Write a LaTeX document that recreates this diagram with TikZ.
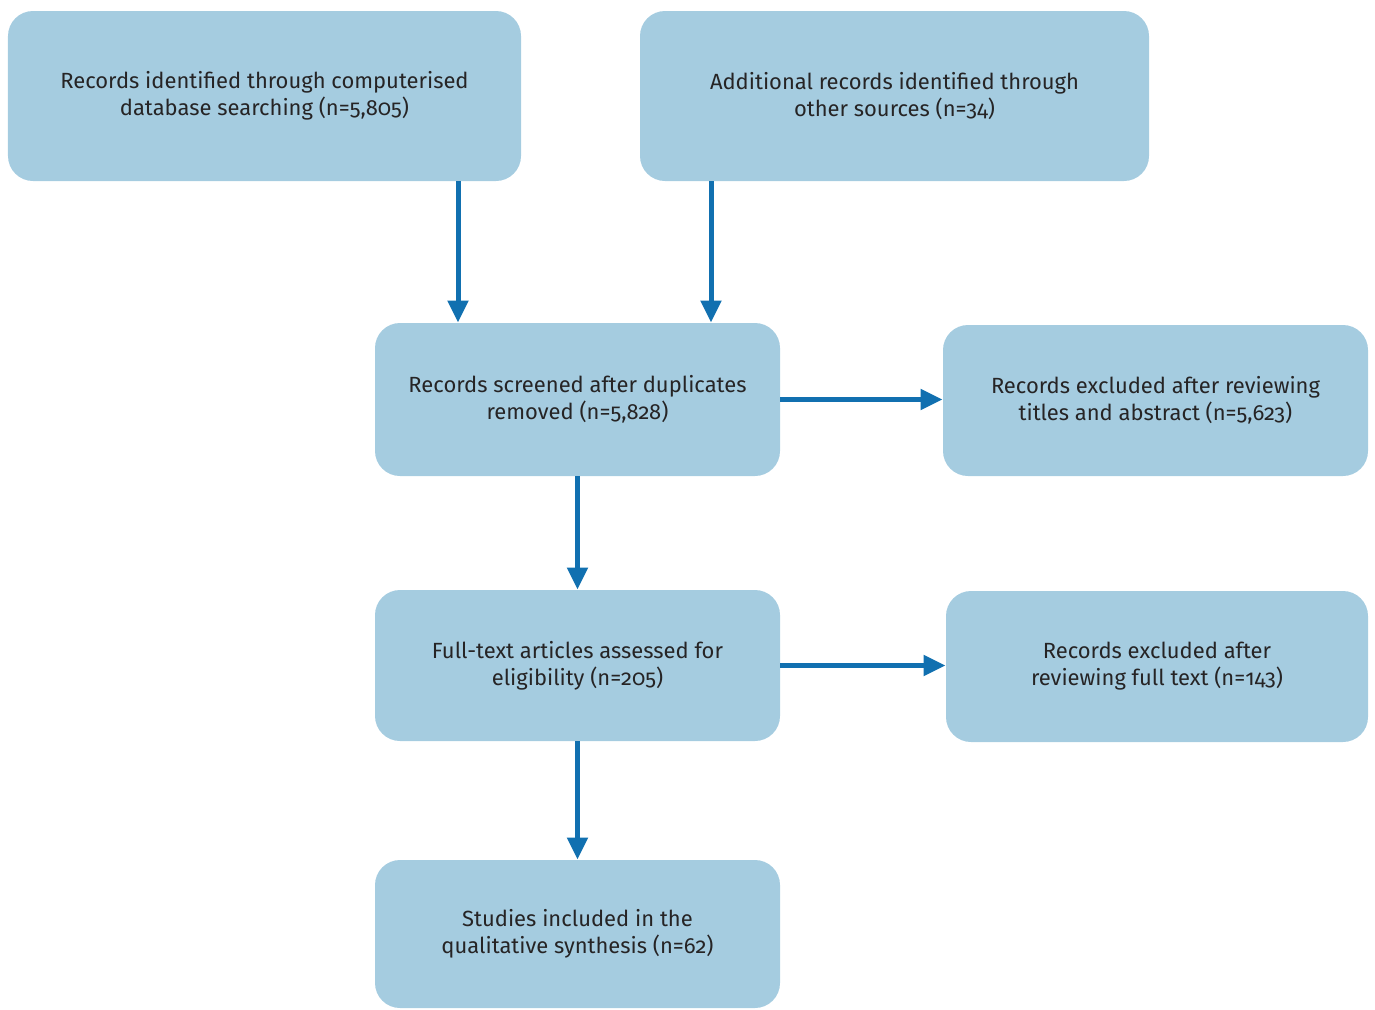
\documentclass[tikz,border=0pt]{standalone}
\usepackage{fontspec}
\setmainfont{Fira Sans}[Numbers=OldStyle]
\usetikzlibrary{arrows.meta, shapes}
\definecolor{boxblue}{RGB}{165,204,224}
\definecolor{arrowblue}{RGB}{17,112,176}
\definecolor{textgrey}{RGB}{38,36,37}

\begin{document}
\begin{tikzpicture}[
  stage/.style={rectangle, rounded corners=0.5cm, fill=boxblue, text=textgrey,
                align=center, font=\fontsize{12.5}{15.4}\selectfont},
  flow/.style={draw=arrowblue, line width=0.1cm, -{Triangle[width=0.4cm,length=0.44cm]}}
]
\useasboundingbox (0,0) rectangle (27.5,-20.2);

\node[stage, minimum width=10.26cm, minimum height=3.4cm] (ident) at (5.29,-1.92)
  {Records identified through computerised\\database searching (n=5,805)};
\node[stage, minimum width=10.18cm, minimum height=3.4cm] (other) at (17.89,-1.92)
  {Additional records identified through\\other sources (n=34)};
\node[stage, minimum width=8.1cm, minimum height=3.06cm] (screen) at (11.55,-7.99)
  {Records screened after duplicates\\removed (n=5,828)};
\node[stage, minimum width=8.5cm, minimum height=3.02cm] (exclA) at (23.11,-8.01)
  {Records excluded after reviewing\\titles and abstract (n=5,623)};
\node[stage, minimum width=8.1cm, minimum height=3.02cm] (full) at (11.55,-13.31)
  {Full-text articles assessed for\\eligibility (n=205)};
\node[stage, minimum width=8.44cm, minimum height=3.02cm] (exclB) at (23.14,-13.33)
  {Records excluded after\\reviewing full text (n=143)};
\node[stage, minimum width=8.1cm, minimum height=2.96cm] (incl) at (11.55,-18.68)
  {Studies included in the\\qualitative synthesis (n=62)};

\coordinate (xa) at (9.16,0);
\coordinate (xb) at (14.22,0);

\draw[flow] (ident.south -| xa) -- (screen.north -| xa);
\draw[flow] (other.south -| xb) -- (screen.north -| xb);
\draw[flow] (screen.east) -- (screen.east -| exclA.west);
\draw[flow] (screen.south) -- (full.north);
\draw[flow] (full.east) -- (full.east -| exclB.west);
\draw[flow] (full.south) -- (incl.north);
\end{tikzpicture}
\end{document}
